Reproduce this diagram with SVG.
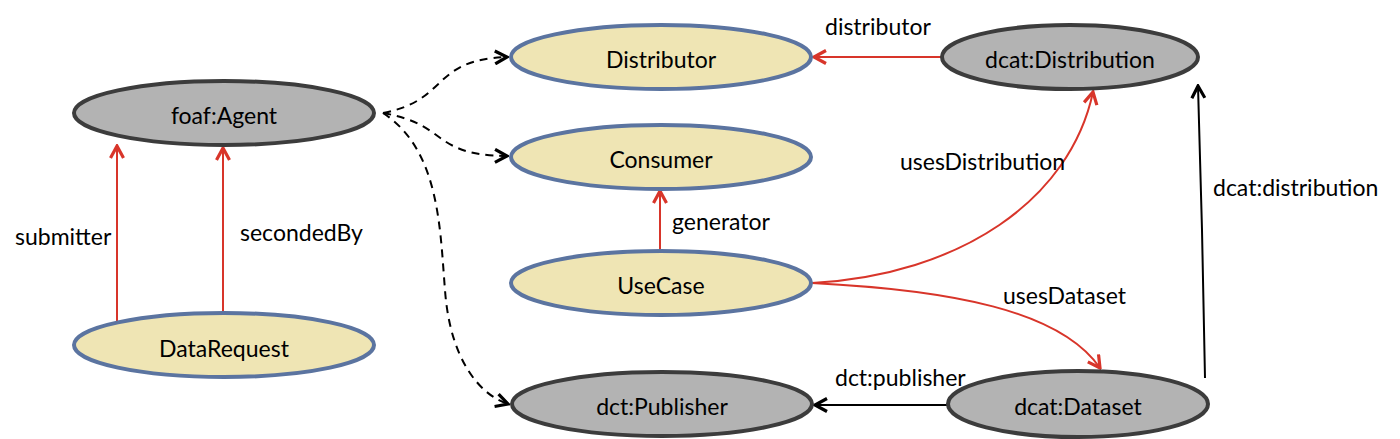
<svg xmlns="http://www.w3.org/2000/svg" width="1400" height="439" viewBox="0 0 1400 439">
<style>
.y{fill:#EFE5B4;stroke:#5B74A0;stroke-width:4}
.g{fill:#B3B3B3;stroke:#3C3C3C;stroke-width:4}
.t{font-family:Lato,"Open Sans",sans-serif;font-size:23px;fill:#000;text-anchor:middle;dominant-baseline:central}
.l{font-family:Lato,"Open Sans",sans-serif;font-size:23px;fill:#000}
.r{fill:none;stroke:#D8352A;stroke-width:2;marker-end:url(#ar)}
.b{fill:none;stroke:#000;stroke-width:2;marker-end:url(#ab)}
.d{fill:none;stroke:#000;stroke-width:2;stroke-dasharray:8,6;marker-end:url(#ab)}
</style>
<defs>
<marker id="ar" viewBox="0 0 16 16" refX="14" refY="8" markerWidth="16" markerHeight="16" markerUnits="userSpaceOnUse" orient="auto">
<path d="M2,1.5 L14,8 L2,14.5" fill="none" stroke="#D8352A" stroke-width="3.2"/>
</marker>
<marker id="ab" viewBox="0 0 16 16" refX="14" refY="8" markerWidth="16" markerHeight="16" markerUnits="userSpaceOnUse" orient="auto">
<path d="M2,1.5 L14,8 L2,14.5" fill="none" stroke="#000" stroke-width="3.2"/>
</marker>
</defs>
<g id="connectors">
<path class="d" d="M383,113 C450,100 430,60 507,57"/>
<path class="d" d="M383,113 C450,125 430,155 507,156"/>
<path class="d" d="M383,113 C440,150 440,230 445,290 C450,360 480,395 508,404"/>
<path class="r" d="M117,322 L117,146"/>
<path class="r" d="M223,312 L223,148"/>
<path class="r" d="M942,57 L814,57"/>
<path class="r" d="M660,251 L660,191"/>
<path class="r" d="M812,283 C960,275 1070,200 1093,92"/>
<path class="r" d="M812,283 C950,290 1060,310 1100,368"/>
<path class="b" d="M1205,378 L1202,230 L1198,86"/>
<path class="b" d="M948,405 L815,405"/>
<text class="l" x="15" y="245">submitter</text>
<text class="l" x="240" y="241">secondedBy</text>
<text class="l" x="825" y="35">distributor</text>
<text class="l" x="672" y="230">generator</text>
<text class="l" x="900" y="170">usesDistribution</text>
<text class="l" x="1003" y="304">usesDataset</text>
<text class="l" x="1213" y="196">dcat:distribution</text>
<text class="l" x="835" y="386">dct:publisher</text>
</g>
<g id="foaf-agent"><ellipse class="g" cx="224" cy="113" rx="150" ry="32"/><text class="t" x="224" y="115">foaf:Agent</text></g>
<g id="datarequest"><ellipse class="y" cx="224" cy="345" rx="150" ry="32"/><text class="t" x="224" y="348">DataRequest</text></g>
<g id="distributor"><ellipse class="y" cx="661" cy="57" rx="150" ry="32"/><text class="t" x="661" y="59">Distributor</text></g>
<g id="consumer"><ellipse class="y" cx="661" cy="157" rx="150" ry="32"/><text class="t" x="661" y="159">Consumer</text></g>
<g id="usecase"><ellipse class="y" cx="661" cy="283" rx="150" ry="32"/><text class="t" x="661" y="285">UseCase</text></g>
<g id="dct-publisher"><ellipse class="g" cx="662" cy="404" rx="150" ry="32"/><text class="t" x="662" y="406">dct:Publisher</text></g>
<g id="dcat-distribution"><ellipse class="g" cx="1070" cy="57" rx="128" ry="32"/><text class="t" x="1070" y="59">dcat:Distribution</text></g>
<g id="dcat-dataset"><ellipse class="g" cx="1078" cy="404" rx="130" ry="33"/><text class="t" x="1078" y="406">dcat:Dataset</text></g>
</svg>
